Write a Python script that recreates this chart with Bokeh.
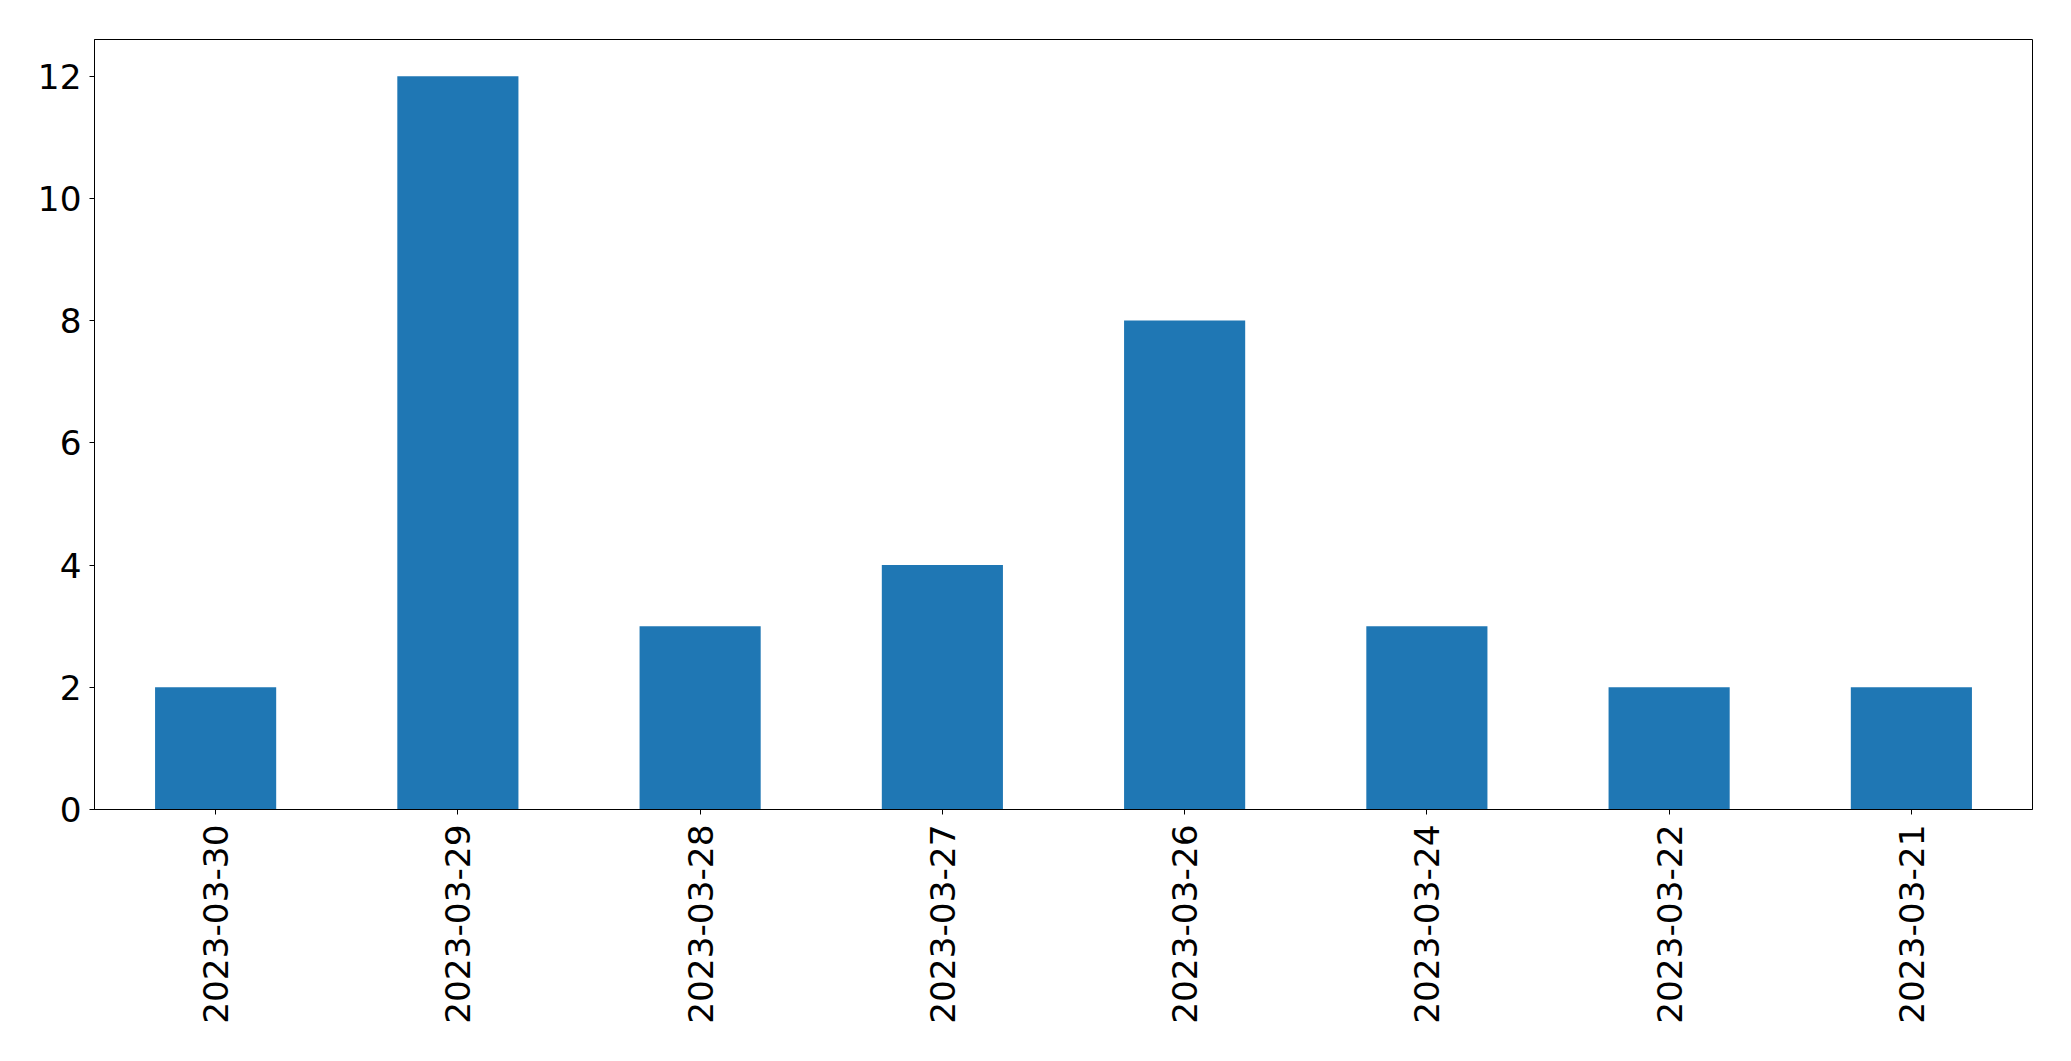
import math
from bokeh.plotting import figure
from bokeh.models import FactorRange, Range1d, FixedTicker, ColumnDataSource
from bokeh.embed import file_html
from bokeh.resources import INLINE

dates = ["2023-03-30", "2023-03-29", "2023-03-28", "2023-03-27",
         "2023-03-26", "2023-03-24", "2023-03-22", "2023-03-21"]
counts = [2, 12, 3, 4, 8, 3, 2, 2]
y_ticks = [0, 2, 4, 6, 8, 10, 12]

src = ColumnDataSource(dict(x=dates, top=counts))

p = figure(x_range=FactorRange(factors=dates, range_padding=0),
           y_range=Range1d(0, 12.6),
           frame_width=1938, frame_height=770,
           min_border_left=94, min_border_right=30,
           min_border_top=39, min_border_bottom=244,
           output_backend="svg", toolbar_location=None,
           background_fill_color="white", border_fill_color="white")

p.vbar(x="x", top="top", width=0.5, source=src, color="#1f77b4", line_width=0)

p.xgrid.visible = False
p.ygrid.visible = False
p.outline_line_color = "black"
p.outline_line_width = 1
p.outline_line_alpha = 1

p.yaxis.ticker = FixedTicker(ticks=y_ticks)
p.yaxis.minor_tick_line_color = None

for ax in (p.xaxis[0], p.yaxis[0]):
    ax.axis_line_color = "black"
    ax.axis_line_width = 1
    ax.major_tick_line_color = "black"
    ax.major_tick_line_width = 1
    ax.major_tick_in = 0
    ax.major_tick_out = 5
    ax.major_label_text_font = "DejaVu Sans"
    ax.major_label_text_font_size = "34.3px"
    ax.major_label_text_color = "black"

p.yaxis.major_label_standoff = 8
p.xaxis.major_label_standoff = 10
p.xaxis.major_label_orientation = math.pi / 2

open("out.html", "w").write(file_html(p, INLINE))
